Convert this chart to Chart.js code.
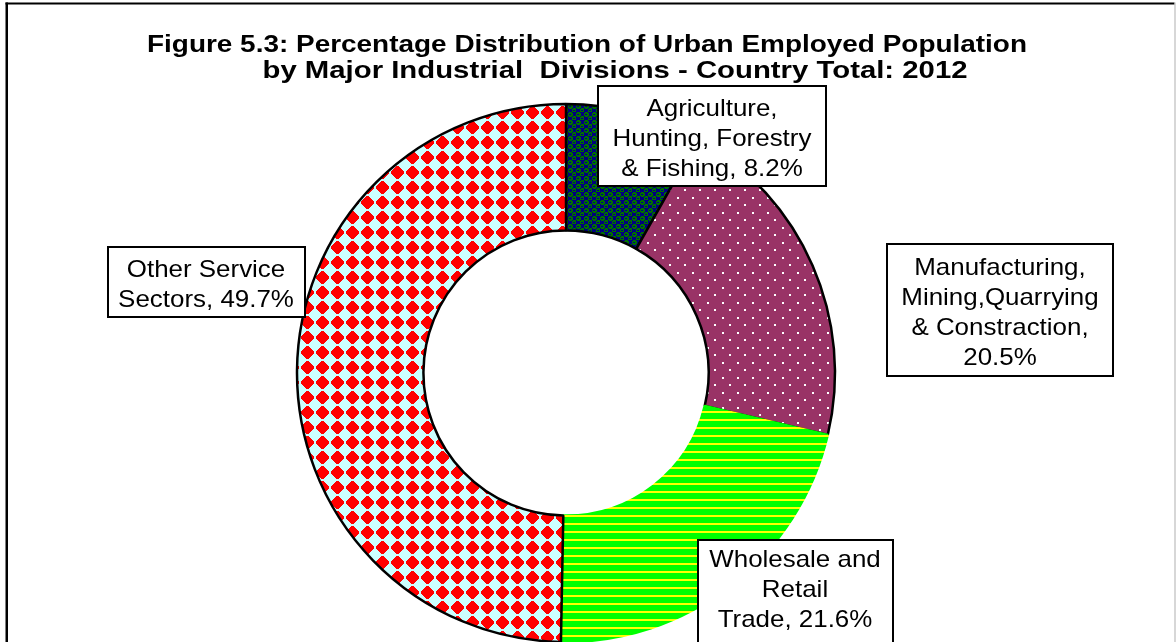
<!DOCTYPE html>
<html lang="en">
<head>
    <meta charset="UTF-8">
    <title>Urban Employed Population by Major Industrial Divisions</title>
    <script src="https://cdn.jsdelivr.net/npm/chart.js"></script>
    <style>
        html, body {
            margin: 0;
            padding: 0;
            background: #fff;
        }
    </style>
</head>
<body>
<canvas id="urbanChart" width="1176" height="642"></canvas>

<script>
    // data
    const titleLines = [
        'Figure 5.3: Percentage Distribution of Urban Employed Population',
        'by Major Industrial  Divisions - Country Total: 2012'
    ];
    const categories = [
        'Agriculture,\nHunting, Forestry\n& Fishing',
        'Manufacturing,\nMining,Quarrying\n& Constraction',
        'Wholesale and\nRetail\nTrade',
        'Other Service\nSectors'
    ];
    const shares = [8.2, 20.5, 21.6, 49.7];

    // pattern fills, like the excel ones
    function makePattern(w, h, paint) {
        const c = document.createElement('canvas');
        c.width = w;
        c.height = h;
        paint(c.getContext('2d'));
        return document.createElement('canvas').getContext('2d').createPattern(c, 'repeat');
    }

    const spherePattern = makePattern(8, 8, g => {
        g.fillStyle = '#000080';
        g.fillRect(0, 0, 8, 8);
        g.fillStyle = '#007000';
        g.fillRect(1, 0, 3, 1);
        g.fillRect(0, 1, 5, 3);
        g.fillRect(1, 4, 3, 1);
        g.fillRect(5, 4, 3, 1);
        g.fillRect(4, 5, 4, 3);
        g.fillStyle = '#000080';
        g.fillRect(1, 2, 2, 1);
        g.fillRect(5, 6, 2, 1);
    });

    const dotPattern = makePattern(15, 15, g => {
        g.fillStyle = '#993366';
        g.fillRect(0, 0, 15, 15);
        g.fillStyle = '#ffffff';
        g.fillRect(2, 2, 2, 2);
        g.fillRect(9, 9, 2, 2);
    });

    const stripePattern = makePattern(8, 8, g => {
        g.fillStyle = '#00ff00';
        g.fillRect(0, 0, 8, 8);
        g.fillStyle = '#ffff00';
        g.fillRect(0, 3, 8, 2);
    });

    const diamondPattern = makePattern(15, 15, g => {
        g.fillStyle = '#ccffff';
        g.fillRect(0, 0, 15, 15);
        g.fillStyle = '#ff0000';
        g.fillRect(6, 1, 3, 13);
        g.fillRect(1, 6, 13, 3);
        g.fillRect(5, 2, 5, 11);
        g.fillRect(2, 5, 11, 5);
        g.fillRect(4, 3, 7, 9);
        g.fillRect(3, 4, 9, 7);
    });

    // frame, title and the boxed labels
    const annotate = {
        id: 'annotate',
        beforeDraw(chart) {
            const ctx = chart.ctx;
            ctx.save();
            ctx.fillStyle = '#ffffff';
            ctx.fillRect(0, 0, chart.width, chart.height);
            ctx.restore();
        },
        afterDraw(chart) {
            const ctx = chart.ctx;
            ctx.save();

            ctx.fillStyle = '#000000';
            ctx.fillRect(5.5, 2.5, 2.5, chart.height);
            ctx.fillRect(5.5, 2.5, 1169, 2);
            ctx.fillStyle = '#b0b0b0';
            ctx.fillRect(1174.5, 2.5, 1, chart.height);

            function stretched(text, cx, y, sx) {
                ctx.save();
                ctx.translate(cx, y);
                ctx.scale(sx, 1);
                ctx.fillText(text, 0, 0);
                ctx.restore();
            }

            ctx.textAlign = 'center';
            ctx.textBaseline = 'alphabetic';
            ctx.fillStyle = '#000000';
            ctx.font = 'bold 24px "Liberation Sans", Arial, sans-serif';
            // excel stretched the title a bit, fit each line to its width
            const titleFit = [{cx: 587, y: 52, w: 880}, {cx: 615, y: 78, w: 705}];
            titleLines.forEach((line, i) => {
                const f = titleFit[i];
                stretched(line, f.cx, f.y, f.w / ctx.measureText(line).width);
            });

            const boxes = [
                {x: 598, y: 86, w: 228, h: 100, cx: 712, base: 116, ownLine: false},
                {x: 887, y: 244, w: 226, h: 132, cx: 1000, base: 275, ownLine: true},
                {x: 698, y: 540, w: 195, h: 120, cx: 795, base: 567, ownLine: false},
                {x: 108, y: 247, w: 197, h: 70, cx: 206, base: 277, ownLine: false}
            ];

            ctx.font = '24px "Liberation Sans", Arial, sans-serif';
            boxes.forEach((b, i) => {
                ctx.fillStyle = '#ffffff';
                ctx.fillRect(b.x, b.y, b.w, b.h);
                ctx.strokeStyle = '#000000';
                ctx.lineWidth = 2;
                ctx.strokeRect(b.x, b.y, b.w, b.h);

                const lines = categories[i].split('\n');
                const pct = shares[i].toFixed(1) + '%';
                if (b.ownLine) {
                    lines[lines.length - 1] += ',';
                    lines.push(pct);
                } else {
                    lines[lines.length - 1] += ', ' + pct;
                }
                ctx.fillStyle = '#000000';
                lines.forEach((line, k) => stretched(line, b.cx, b.base + k * 30, 1.08));
            });

            ctx.restore();
        }
    };

    new Chart(document.getElementById('urbanChart').getContext('2d'), {
        type: 'doughnut',
        data: {
            labels: categories.map(c => c.replace(/\n/g, ' ')),
            datasets: [{
                data: shares,
                backgroundColor: [spherePattern, dotPattern, stripePattern, diamondPattern],
                // wholesale slice has no outline in the original, paint its edge with its own fill
                borderColor: ['#000000', '#000000', stripePattern, '#000000'],
                borderWidth: 2.5,
                radius: 269,
                hoverOffset: 0
            }]
        },
        options: {
            responsive: false,
            animation: false,
            events: [],
            cutout: '53%',
            layout: {
                padding: {left: 0, right: 44, top: 104, bottom: 0}
            },
            plugins: {
                legend: {display: false},
                tooltip: {enabled: false},
                title: {display: false}
            }
        },
        plugins: [annotate]
    });
</script>
</body>
</html>
